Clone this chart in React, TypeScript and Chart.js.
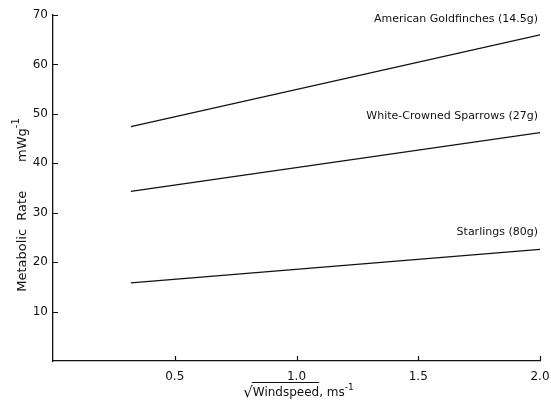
import React, { useEffect, useRef } from "react";
import { Chart, registerables } from "chart.js";

Chart.register(...registerables);

// ---- data ----
const windspeedSqrt = [0.32, 2.0];
const goldfinches = [47.4, 66.0];
const sparrows = [34.3, 46.2];
const starlings = [15.8, 22.6];
const seriesNames = [
  "American Goldfinches (14.5g)",
  "White-Crowned Sparrows (27g)",
  "Starlings (80g)",
];
const labelX = [2.0, 2.0, 2.0];
const labelY = [69.2, 49.6, 26.0];
const xTicks = [0.5, 1.0, 1.5, 2.0];
const yTicks = [10, 20, 30, 40, 50, 60, 70];

const INK = "#111111";
const FONT = "'DejaVu Sans', sans-serif";

const decorPlugin = {
  id: "decor",
  afterDraw(chart: any) {
    const ctx = chart.ctx as CanvasRenderingContext2D;
    const xs = chart.scales.x;
    const ys = chart.scales.y;
    const area = chart.chartArea;
    ctx.save();
    ctx.strokeStyle = INK;
    ctx.fillStyle = INK;
    ctx.lineWidth = 1.2;
    // inward tick marks
    ctx.beginPath();
    yTicks.forEach((v) => {
      const py = Math.round(ys.getPixelForValue(v)) + 0.5;
      ctx.moveTo(area.left, py);
      ctx.lineTo(area.left + 5, py);
    });
    xTicks.forEach((v) => {
      const px = Math.round(xs.getPixelForValue(v)) + 0.5;
      ctx.moveTo(px, area.bottom);
      ctx.lineTo(px, area.bottom - 5);
    });
    ctx.stroke();

    // series labels
    ctx.font = `11px ${FONT}`;
    ctx.textAlign = "right";
    ctx.textBaseline = "middle";
    seriesNames.forEach((name, i) => {
      ctx.fillText(name, xs.getPixelForValue(labelX[i]) - 2, ys.getPixelForValue(labelY[i]));
    });

    // x-axis title: √Windspeed, ms^-1
    const cx = (area.left + area.right) / 2 + 2;
    const by = 396;
    const rad = "√";
    const w1 = "Windspeed";
    const w2 = ", ms";
    const sup = "-1";
    ctx.textAlign = "left";
    ctx.textBaseline = "alphabetic";
    ctx.font = `15px ${FONT}`;
    const radW = ctx.measureText(rad).width;
    ctx.font = `12px ${FONT}`;
    const w1W = ctx.measureText(w1).width;
    const w2W = ctx.measureText(w2).width;
    ctx.font = `9px ${FONT}`;
    const supW = ctx.measureText(sup).width;
    const total = radW + w1W + w2W + supW;
    const x0 = cx - total / 2;
    ctx.font = `15px ${FONT}`;
    ctx.fillText(rad, x0, by + 1);
    ctx.font = `12px ${FONT}`;
    ctx.fillText(w1, x0 + radW, by);
    ctx.beginPath();
    ctx.lineWidth = 1;
    ctx.moveTo(x0 + radW - 1, by - 13.5);
    ctx.lineTo(x0 + radW + w1W, by - 13.5);
    ctx.stroke();
    ctx.fillText(w2, x0 + radW + w1W, by);
    ctx.font = `9px ${FONT}`;
    ctx.fillText(sup, x0 + radW + w1W + w2W, by - 6);

    // y-axis title: Metabolic Rate  mWg^-1
    ctx.save();
    ctx.translate(23, 205);
    ctx.rotate(-Math.PI / 2);
    ctx.font = `13px ${FONT}`;
    const t1 = "Metabolic  Rate       mWg";
    const t1W = ctx.measureText(t1).width;
    ctx.font = `10px ${FONT}`;
    const tsW = ctx.measureText(sup).width;
    const tot = t1W + tsW;
    ctx.font = `13px ${FONT}`;
    ctx.textBaseline = "middle";
    ctx.fillText(t1, -tot / 2, 0);
    ctx.font = `10px ${FONT}`;
    ctx.fillText(sup, -tot / 2 + t1W, -7);
    ctx.restore();

    ctx.restore();
  },
};

export default function App() {
  const ref = useRef<HTMLCanvasElement | null>(null);
  useEffect(() => {
    if (!ref.current) return;
    const mk = (ys: number[]) => windspeedSqrt.map((x, i) => ({ x, y: ys[i] }));
    const chart = new Chart(ref.current, {
      type: "line",
      data: {
        datasets: [goldfinches, sparrows, starlings].map((s, i) => ({
          label: seriesNames[i],
          data: mk(s),
          borderColor: INK,
          borderWidth: 1.3,
          pointRadius: 0,
          fill: false,
          tension: 0,
        })),
      },
      options: {
        responsive: false,
        animation: false,
        layout: { padding: { top: 15, right: 11, left: 0, bottom: 0 } },
        plugins: { legend: { display: false }, tooltip: { enabled: false } },
        scales: {
          x: {
            type: "linear",
            min: 0,
            max: 2.0,
            afterFit: (s: any) => {
              s.height = 40;
              s.paddingRight = 0;
              s.paddingLeft = 0;
            },
            afterBuildTicks: (s: any) => {
              s.ticks = xTicks.map((v) => ({ value: v }));
            },
            ticks: {
              color: INK,
              font: { family: FONT, size: 12 },
              padding: 9,
              maxRotation: 0,
              callback: (v: any) => Number(v).toFixed(1),
            },
            grid: { display: true, drawOnChartArea: false, drawTicks: false, color: "transparent" },
            border: { display: true, color: INK, width: 1.3 },
          },
          y: {
            type: "linear",
            min: 0,
            max: 70,
            afterFit: (s: any) => {
              s.width = 53;
              s.paddingTop = 0;
              s.paddingBottom = 0;
            },
            afterBuildTicks: (s: any) => {
              s.ticks = yTicks.map((v) => ({ value: v }));
            },
            ticks: {
              color: INK,
              font: { family: FONT, size: 12 },
              padding: 5,
            },
            grid: { display: true, drawOnChartArea: false, drawTicks: false, color: "transparent" },
            border: { display: true, color: INK, width: 1.3 },
          },
        },
      },
      plugins: [decorPlugin],
    });
    return () => chart.destroy();
  }, []);
  return (
    <div style={{ position: "absolute", left: 0, top: 0, width: 551, height: 401, background: "#fff" }}>
      <canvas ref={ref} width={551} height={401} style={{ display: "block" }} />
    </div>
  );
}
